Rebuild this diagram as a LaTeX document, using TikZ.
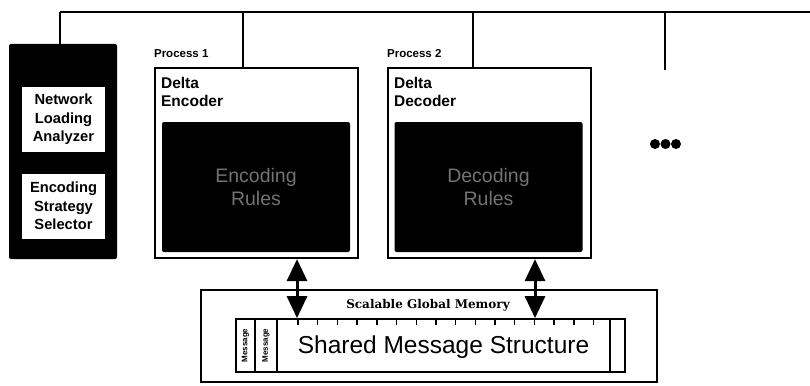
\documentclass[tikz,border=0pt]{standalone}
\usepackage{fontspec}
\setmainfont{Liberation Serif}
\setsansfont{Liberation Sans}
\newfontfamily\memfont{DejaVu Serif}
\usetikzlibrary{positioning,arrows.meta}
\tikzset{
  bus/.style={line width=2.4pt},
  tap/.style={line width=2pt},
  procbox/.style={draw,line width=2.2pt,fill=white,inner sep=0pt,minimum width=203pt,minimum height=190pt},
  rulebox/.style={fill=black,rounded corners=2pt,inner sep=0pt,minimum width=188pt,minimum height=130pt,text=black!55,align=center,font=\sffamily\fontsize{19.5}{23}\selectfont},
  proctitle/.style={inner sep=0pt,align=left,font=\sffamily\bfseries\fontsize{15.5}{18}\selectfont},
  proclabel/.style={inner sep=0pt,font=\sffamily\bfseries\fontsize{11.5}{13}\selectfont},
  selbox/.style={fill=black,rounded corners=2pt,inner sep=0pt,minimum width=108pt,minimum height=215pt},
  selitem/.style={fill=white,inner sep=0pt,minimum width=83pt,minimum height=65pt,align=center,font=\sffamily\bfseries\fontsize{14.7}{18.5}\selectfont},
  membox/.style={draw,line width=2pt,inner sep=0pt,minimum width=456pt,minimum height=92pt},
  shared/.style={draw,line width=1.8pt,inner sep=0pt,minimum width=389pt,minimum height=53pt},
  msgcell/.style={rotate=90,inner sep=0pt,font=\sffamily\bfseries\fontsize{8}{9}\selectfont},
  dbl/.style={{Triangle[width=20pt 0,length=22pt 0]}-{Triangle[width=20pt 0,length=22pt 0]},line width=3pt},
  dot/.style={circle,fill=black,inner sep=0pt,minimum size=10pt},
}

\begin{document}
\begin{tikzpicture}[x=1pt,y=-1pt]
  \useasboundingbox (0,0) rectangle (810,385);
  \node[selbox] (sel) at (63,151.5) {};
  \node[selitem] (nla) at (63.5,119.5) {Network\\Loading\\Analyzer};
  \node[selitem] (ess) at (63.5,206) {Encoding\\Strategy\\Selector};
  \node[procbox] (enc) at (256.5,163) {};
  \node[procbox] (dec) at (489.5,163) {};
  \node[proclabel,above right=9pt and 0pt of enc.north west] (p1) {Process 1};
  \node[proclabel,above right=9pt and 0pt of dec.north west] (p2) {Process 2};
  \node[proctitle,below right=10pt and 7pt of enc.north west] (enct) {Delta\\Encoder};
  \node[proctitle,below right=10pt and 7pt of dec.north west] (dect) {Delta\\Decoder};
  \node[rulebox] (encr) at (256,187) {Encoding\\Rules};
  \node[rulebox] (decr) at (488.5,187) {Decoding\\Rules};

  \coordinate (busL) at (60,12);
  \coordinate (busR) at (812,12);
  \coordinate (tap1) at (243,12);
  \coordinate (tap2) at (473,12);
  \coordinate (tap3) at (665,12);
  \coordinate (tap3e) at (665,70);
  \draw[bus] (busL) -- (busR);
  \draw[tap] (busL) -- (sel.north -| busL);
  \draw[tap] (tap1) -- (tap1 |- enc.north);
  \draw[tap] (tap2) -- (tap2 |- dec.north);
  \draw[tap] (tap3) -- (tap3e);

  \foreach \i/\x in {1/655,2/665.5,3/676}
    \node[dot] (dot\i) at (\x,144) {};

  \node[membox] (mem) at (429,336) {};
  \node[inner sep=0pt,font=\memfont\bfseries\fontsize{12}{14}\selectfont] (meml) at (428,305) {Scalable Global Memory};
  \node[shared] (sms) at (430.5,345.5) {};
  \foreach \x in {255,277,610}
    \draw[line width=1.4pt] (\x,319) -- (\x,372);
  \foreach \i in {0,...,15}
    \draw[line width=1.4pt] ({298+19.7*\i},319) -- ++(0,6);
  \node[msgcell] (msg1) at (245.5,345.5) {Message};
  \node[msgcell] (msg2) at (266,345.5) {Message};
  \node[inner sep=0pt,font=\sffamily\fontsize{24.5}{28}\selectfont] (smst) at (443.5,347) {Shared Message Structure};

  \coordinate (a1) at (297,0);
  \coordinate (a2) at (535,0);
  \draw[dbl] (enc.south -| a1) -- (sms.north -| a1);
  \draw[dbl] (dec.south -| a2) -- (sms.north -| a2);
\end{tikzpicture}
\end{document}
